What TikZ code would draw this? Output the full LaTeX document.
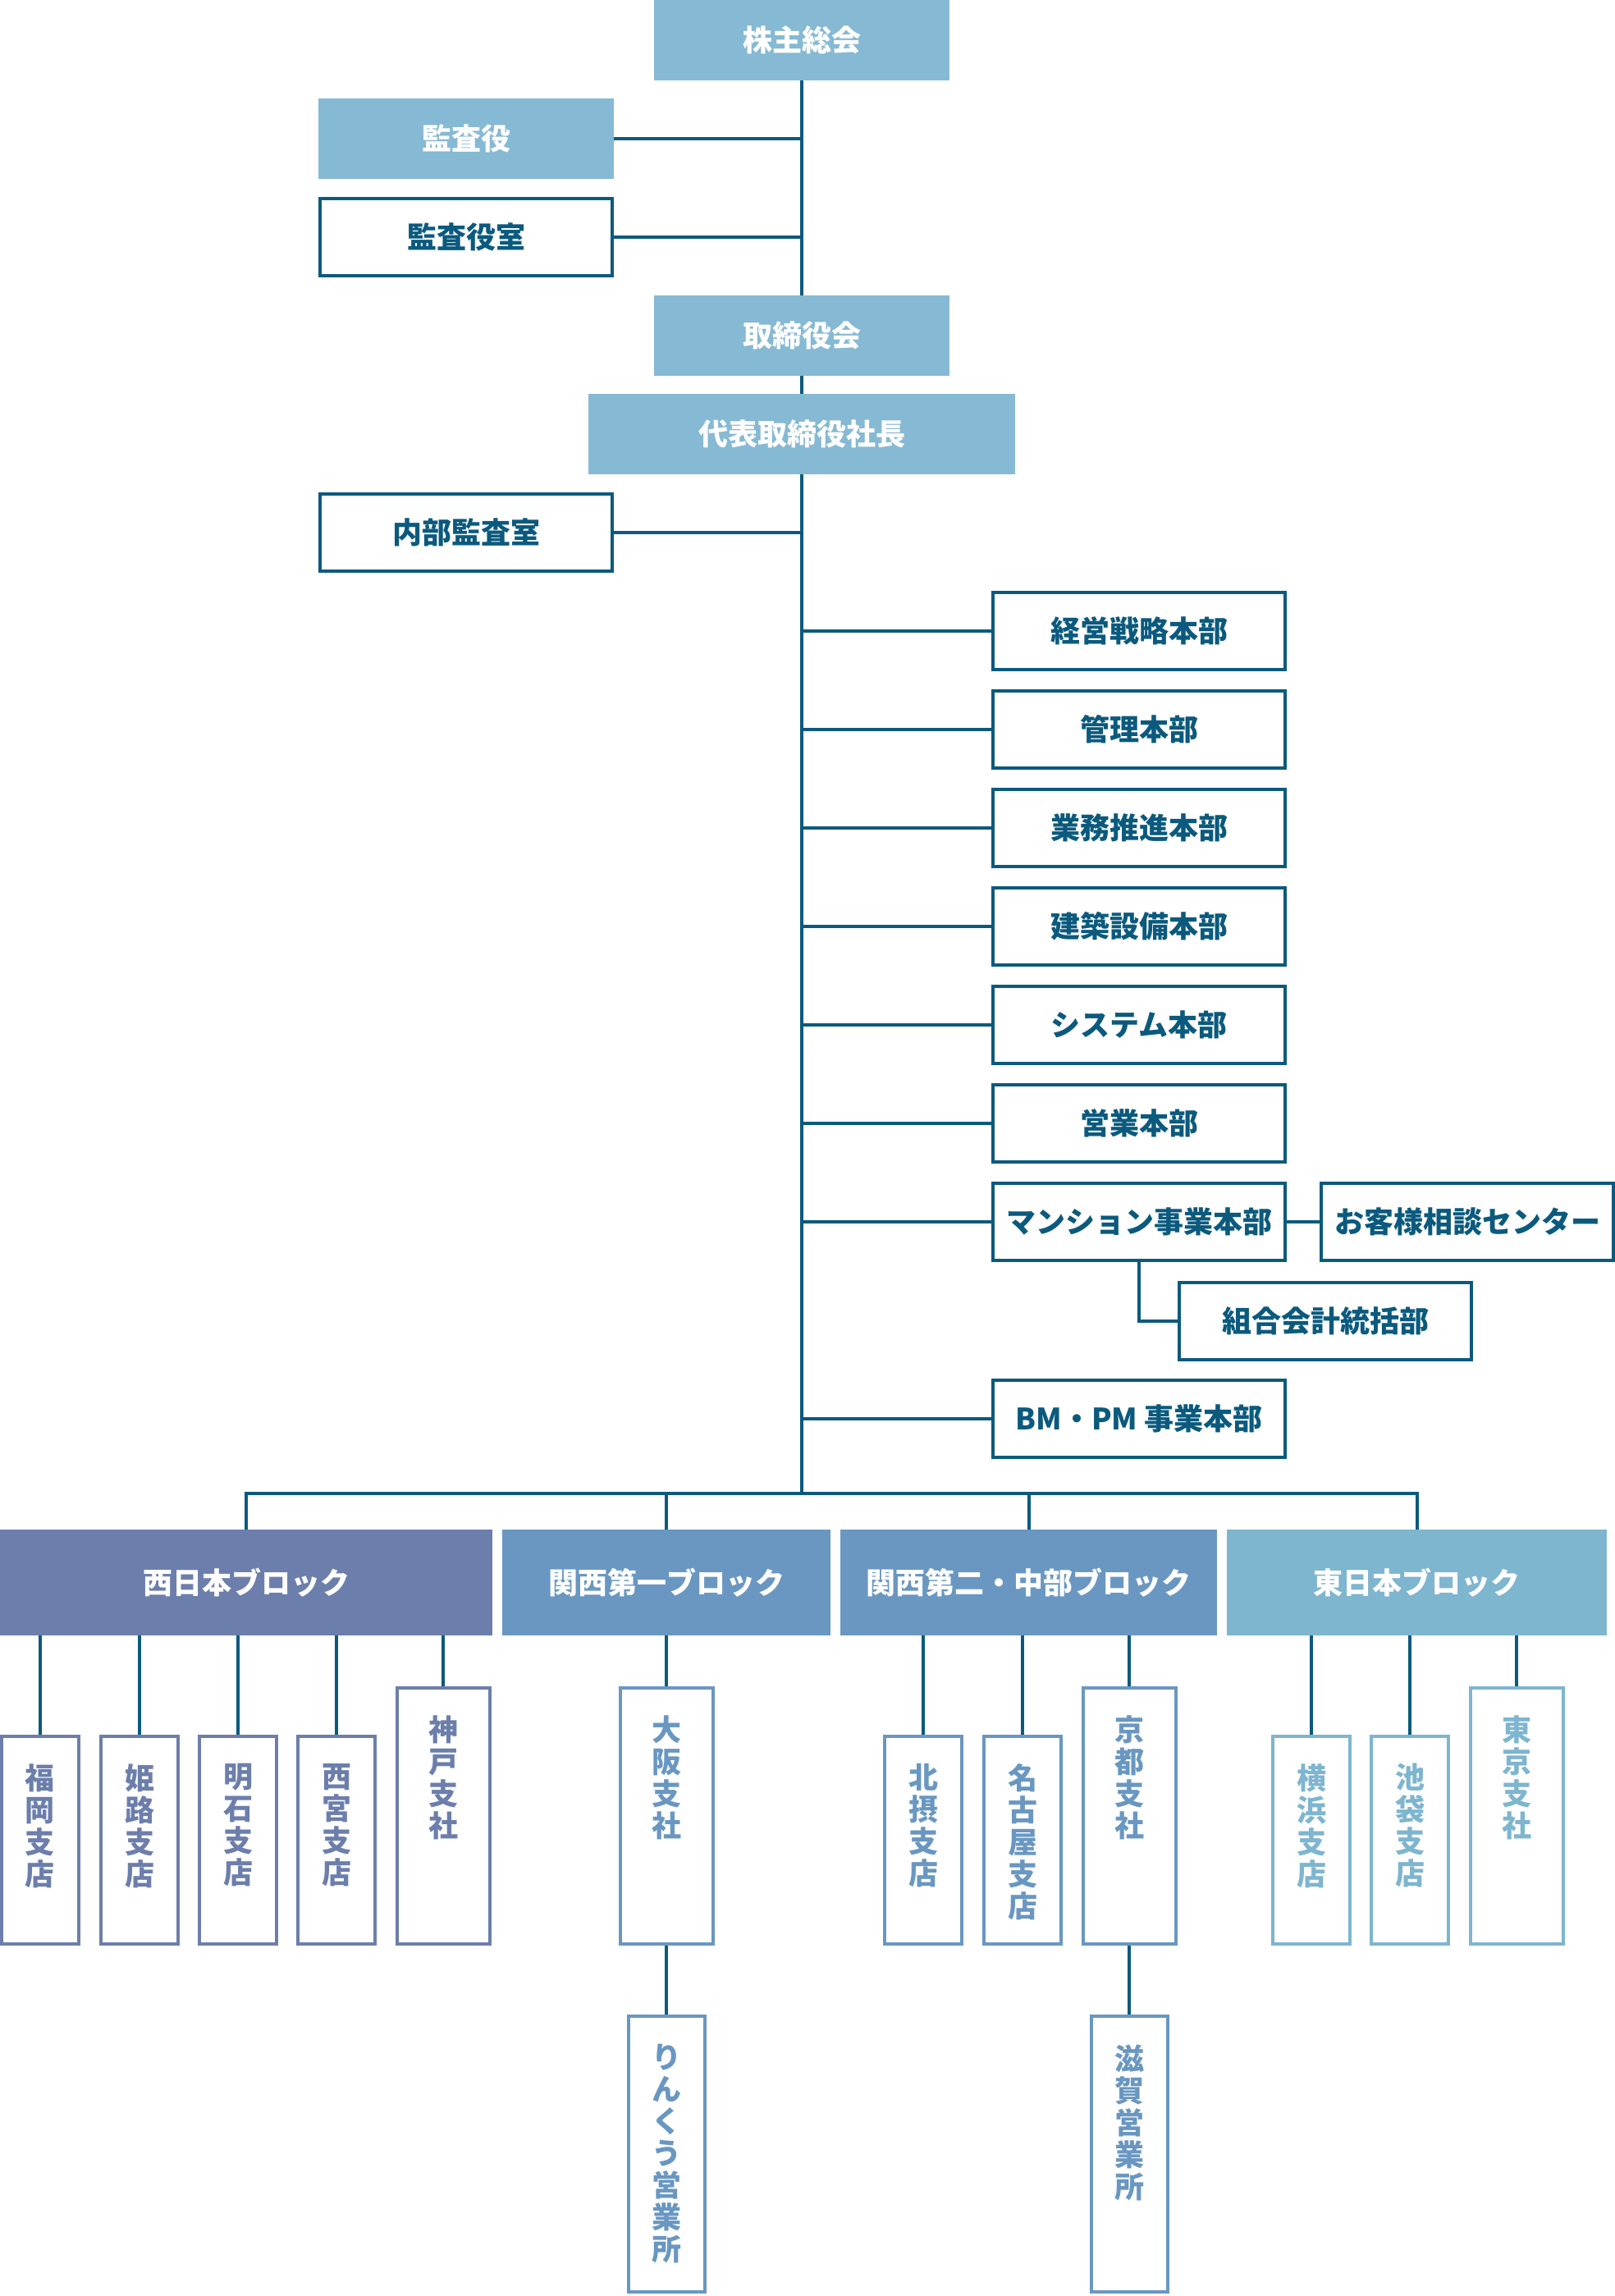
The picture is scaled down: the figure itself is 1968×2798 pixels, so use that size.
\documentclass[tikz,border=0pt]{standalone}
\usepackage{fontspec}
\setmainfont{Noto Sans CJK JP}
\usepackage{tikz}

\definecolor{darkline}{HTML}{0B5A7E}
\definecolor{topblue}{HTML}{86B9D3}
\definecolor{westblue}{HTML}{6C7EAB}
\definecolor{kansaiblue}{HTML}{6997C1}
\definecolor{eastblue}{HTML}{7EB5CF}

\tikzset{
  filled/.style = {fill=topblue, text=white, minimum width=180pt, minimum height=49pt, inner sep=0pt},
  framed/.style = {draw=darkline, line width=2pt, fill=white, text=darkline, minimum width=178pt, minimum height=47pt, inner sep=0pt},
  block/.style = {text=white, minimum height=64.5pt, inner sep=0pt},
  branch/.style = {line width=2pt, fill=white, anchor=south, inner sep=0pt},
  shiten/.style = {branch, minimum width=47pt, minimum height=126.5pt},
  shisha/.style = {branch, minimum width=56.5pt, minimum height=156pt},
  eigyosho/.style = {branch, anchor=north, minimum width=46.5pt, minimum height=168pt},
  tate/.style = {align=center, inner sep=0pt, anchor=north},
  link/.style = {draw=darkline, line width=2pt}
}

\begin{document}
\begin{tikzpicture}[x=0.5pt, y=-0.5pt, font=\bfseries\fontsize{18pt}{19.5pt}\selectfont]
\useasboundingbox (0,0) rectangle (1968,2798);

% Top of the organisation
\node[filled] (kabunushi) at (977,49) {株主総会};
\node[filled] (kansayaku) at (568,169) {監査役};
\node[framed] (kansashitsu) at (568,289) {監査役室};
\node[filled] (torishimari) at (977,409) {取締役会};
\node[filled, minimum width=260pt] (shacho) at (977,529) {代表取締役社長};
\node[framed] (naibu) at (568,649) {内部監査室};
\coordinate (bus) at (977,1820);

\draw[link] (kabunushi) -- (torishimari);
\draw[link] (torishimari) -- (shacho);
\draw[link] (shacho.south) -- (bus);
\draw[link] (kansayaku) -- (kansayaku -| kabunushi);
\draw[link] (kansashitsu) -- (kansashitsu -| kabunushi);
\draw[link] (naibu) -- (naibu -| kabunushi);

% Head office divisions
\foreach \name/\y/\txt in {keiei/769/経営戦略本部, kanri/889/管理本部, gyomu/1009/業務推進本部,
    kenchiku/1129/建築設備本部, system/1249/システム本部, eigyo/1369/営業本部,
    mansion/1489/マンション事業本部, bmpm/1729/{BM・PM 事業本部}} {
  \node[framed] (\name) at (1388,\y) {\txt};
  \draw[link] (\name) -- (\name -| kabunushi);
}

\node[framed] (okyaku) at (1788,1489) {お客様相談センター};
\node[framed] (kumiai) at (1615,1610) {組合会計統括部};
\draw[link] (mansion) -- (okyaku);
\draw[link] (mansion.south) |- (kumiai.west);

% Blocks
\node[block, fill=westblue, minimum width=300pt] (west) at (300,1928.5) {西日本ブロック};
\node[block, fill=kansaiblue, minimum width=200pt] (kansai1) at (812,1928.5) {関西第一ブロック};
\node[block, fill=kansaiblue, minimum width=229.5pt] (kansai2) at (1253.5,1928.5) {関西第二・中部ブロック};
\node[block, fill=eastblue, minimum width=231.5pt] (east) at (1726.5,1928.5) {東日本ブロック};

\draw[link] (west.north) |- (bus) -| (east.north);
\draw[link] (kansai1.north) -- (kansai1.north |- bus);
\draw[link] (kansai2.north) -- (kansai2.north |- bus);

% Branches
\foreach \name/\x/\kind/\txt in {fukuoka/49/shiten/福\\岡\\支\\店, himeji/170/shiten/姫\\路\\支\\店,
    akashi/290/shiten/明\\石\\支\\店, nishinomiya/410/shiten/西\\宮\\支\\店, kobe/540/shisha/神\\戸\\支\\社} {
  \node[\kind, draw=westblue] (\name) at (\x,2371) {};
  \node[tate, text=westblue] (\name-txt) at ([yshift=-17.5pt]\name.north) {\txt};
  \draw[link] (\name.north) -- (\name.north |- west.south);
}

\foreach \name/\x/\kind/\txt in {osaka/812/shisha/大\\阪\\支\\社} {
  \node[\kind, draw=kansaiblue] (\name) at (\x,2371) {};
  \node[tate, text=kansaiblue] (\name-txt) at ([yshift=-17.5pt]\name.north) {\txt};
  \draw[link] (\name.north) -- (\name.north |- kansai1.south);
}

\foreach \name/\x/\kind/\txt in {hokusetsu/1125/shiten/北\\摂\\支\\店, nagoya/1246/shiten/名\\古\\屋\\支\\店,
    kyoto/1376/shisha/京\\都\\支\\社} {
  \node[\kind, draw=kansaiblue] (\name) at (\x,2371) {};
  \node[tate, text=kansaiblue] (\name-txt) at ([yshift=-17.5pt]\name.north) {\txt};
  \draw[link] (\name.north) -- (\name.north |- kansai2.south);
}

\foreach \name/\x/\kind/\txt in {yokohama/1598/shiten/横\\浜\\支\\店, ikebukuro/1718/shiten/池\\袋\\支\\店,
    tokyo/1848/shisha/東\\京\\支\\社} {
  \node[\kind, draw=eastblue] (\name) at (\x,2371) {};
  \node[tate, text=eastblue] (\name-txt) at ([yshift=-17.5pt]\name.north) {\txt};
  \draw[link] (\name.north) -- (\name.north |- east.south);
}

% Sales offices
\node[eigyosho, draw=kansaiblue] (rinku) at (812,2455) {};
\node[tate, text=kansaiblue] (rinku-txt) at ([yshift=-18pt]rinku.north) {り\\ん\\く\\う\\営\\業\\所};
\draw[link] (osaka) -- (rinku);

\node[eigyosho, draw=kansaiblue] (shiga) at (1376,2455) {};
\node[tate, text=kansaiblue] (shiga-txt) at ([yshift=-18pt]shiga.north) {滋\\賀\\営\\業\\所};
\draw[link] (kyoto) -- (shiga);

\end{tikzpicture}
\end{document}
